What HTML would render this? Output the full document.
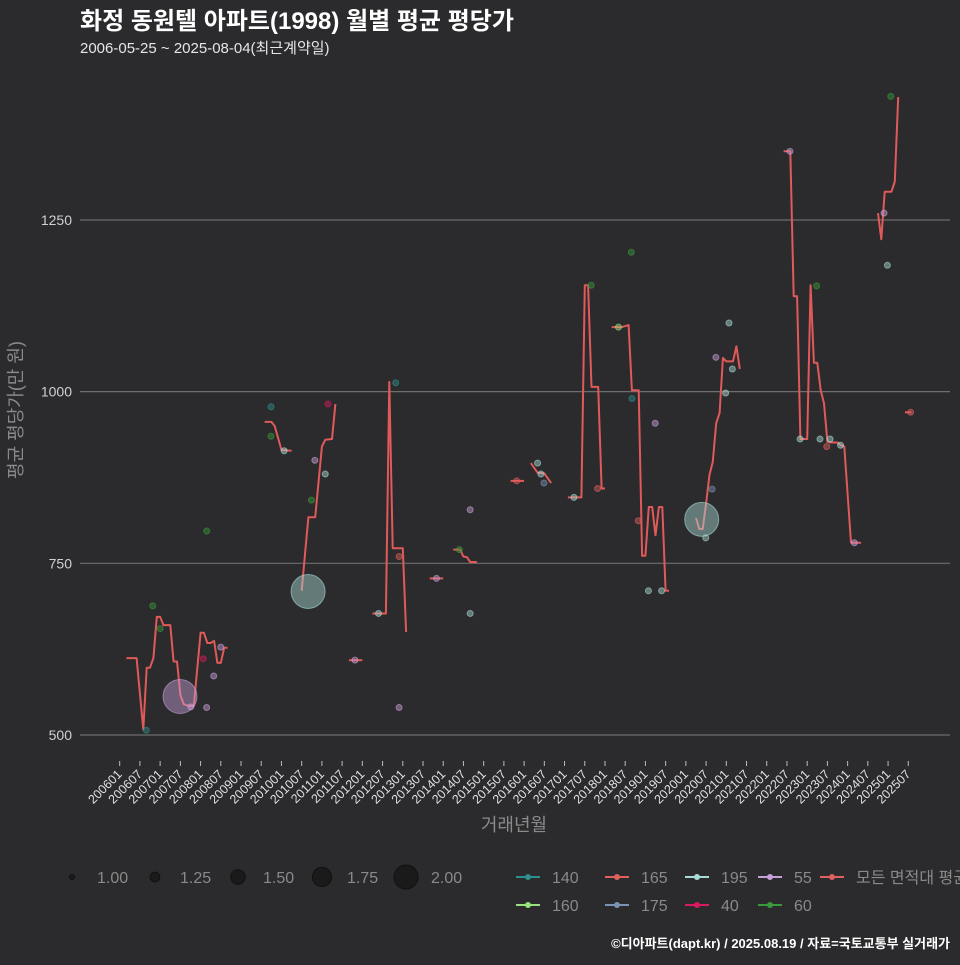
<!DOCTYPE html>
<html><head><meta charset="utf-8">
<style>
html,body{margin:0;padding:0;background:#2b2a2c;}
body{width:960px;height:960px;overflow:hidden;font-family:"Liberation Sans","Noto Sans CJK KR",sans-serif;}
</style></head>
<body>
<svg id="chart" width="960" height="960" xmlns="http://www.w3.org/2000/svg" style="font-family:'Liberation Sans','Noto Sans CJK KR',sans-serif">
<rect width="960" height="960" fill="#2b2a2c"/>
<text x="80" y="29" fill="#ffffff" font-size="24" font-weight="bold">화정 동원텔 아파트(1998) 월별 평균 평당가</text>
<text x="80" y="53" fill="#e6e6e6" font-size="15">2006-05-25 ~ 2025-08-04(최근계약일)</text>
<g id="grid"></g>
<g id="yaxis"></g>
<g id="xaxis"></g>
<g id="series"></g>
<text transform="translate(22,410) rotate(-90)" text-anchor="middle" fill="#8a8a8a" font-size="18">평균 평당가(만 원)</text>
<text x="514" y="831" text-anchor="middle" fill="#8a8a8a" font-size="18">거래년월</text>
<g id="legend"></g>
<text x="950" y="948" text-anchor="end" fill="#ffffff" font-size="13" font-weight="bold">©디아파트(dapt.kr) / 2025.08.19 / 자료=국토교통부 실거래가</text>
</svg>
<script>
// ---- data ----
const yTicks = [500, 750, 1000, 1250];
const xTickLabels = ["200601","200607","200701","200707","200801","200807","200901","200907","201001","201007","201101","201107","201201","201207","201301","201307","201401","201407","201501","201507","201601","201607","201701","201707","201801","201807","201901","201907","202001","202007","202101","202107","202201","202207","202301","202307","202401","202407","202501","202507"];
// line: month index since 2006-01, value, segment id
const lineMonths = [2,5,7,8,9,10,11,12,13,15,16,17,18,19,20,22,24,25,26,27,28,29,30,31,32,
 43,45,46,48,51,
 54,55,56,58,60,61,63,64,
 68,72,
 75,79,80,81,84,85,
 92,96,
 99,101,102,103,104,106,
 116,120,
 122,124,126,128,
 133,137,138,139,140,142,143,144,
 146,149,151,152,154,155,156,157,158,159,160,161,162,163,
 171,172,173,174,175,176,177,178,179,180,182,183,184,
 197,199,200,201,202,204,205,206,207,208,209,210,211,213,214,215,217,220,
 225,226,227,229,230,231,
 233,235];
const lineValues = [612,612,508,598,598,612,672,672,660,660,607,607,558,545,543,542,649,649,634,634,637,605,605,627,627,
 956,956,950,915,914,
 710,765,817,817,920,930,931,982,
 609,609,
 677,677,1014,772,772,650,
 728,728,
 770,770,760,759,752,752,
 870,870,
 896,882,881,867,
 846,846,1155,1155,1007,1007,859,859,
 1094,1094,1097,1002,1002,761,761,832,832,791,832,832,710,710,
 816,800,800,837,879,898,954,969,1049,1044,1044,1066,1033,
 1350,1350,1139,1139,931,931,1155,1042,1042,1002,983,927,926,926,922,920,780,780,
 1260,1222,1291,1291,1306,1429,
 970,970];
const lineSegments = [1,1,1,1,1,1,1,1,1,1,1,1,1,1,1,1,1,1,1,1,1,1,1,1,1,
 2,2,2,2,2,
 3,3,3,3,3,3,3,3,
 4,4,
 5,5,5,5,5,5,
 6,6,
 7,7,7,7,7,7,
 8,8,
 9,9,9,9,
 10,10,10,10,10,10,10,10,
 11,11,11,11,11,11,11,11,11,11,11,11,11,11,
 12,12,12,12,12,12,12,12,12,12,12,12,12,
 13,13,13,13,13,13,13,13,13,13,13,13,13,13,13,13,13,13,
 14,14,14,14,14,14,
 15,15];
// scatter points
const pointMonths = [7.9,9.8,12,17.9,21.1,24.8,27.9,25.8,30,25.8,44.9,44.9,48.8,57.9,61,56.9,61.8,55.9,76.8,69.8,81.9,82.9,82.9,94,100.8,104,104,117.8,124,125,125.9,134.8,139.9,141.8,148,151.8,152,153.9,158.9,156.9,160.8,172.7,173.9,175.8,176.9,180.8,181.8,179.8,198.9,201.9,206.8,207.8,210.8,209.8,213.9,218,228.8,226.8,227.8,234.7];
const pointValues = [507,688,655,556,541,611,586,540,628,797,978,935,914,900,880,842,982,709,677,609,1013,760,540,728,770,828,677,870,896,880,867,846,1155,859,1094,1203,990,812,954,710,710,814,787,858,1050,1100,1033,998,1350,931,1154,931,931,920,922,780,1430,1260,1184,970];
const pointAreas = ["140","60","60","55","55","40","55","55","55","60","140","60","195","55","195","60","40","195","195","55","140","165","55","55","60","55","195","165","195","195","175","195","60","165","160","60","140","165","55","195","195","195","195","175","55","195","195","195","55","195","60","195","195","165","195","55","60","55","195","165"];
const pointCounts = [1,1,1,2,1,1,1,1,1,1,1,1,1,1,1,1,1,2,1,1,1,1,1,1,1,1,1,1,1,1,1,1,1,1,1,1,1,1,1,1,1,2,1,1,1,1,1,1,1,1,1,1,1,1,1,1,1,1,1,1];
const areaNames = ["140","165","195","55","모든 면적대 평균","160","175","40","60"];
const sizeLabels = ["1.00","1.25","1.50","1.75","2.00"];
const sizeValues = [1,1.25,1.5,1.75,2];

const colors = {"140":"#2e8f8c","165":"#e0605e","195":"#a9dcd6","55":"#c8a0d8","160":"#9be07f","175":"#7b93b5","40":"#d81b60","60":"#3a9a3a","모든 면적대 평균":"#e0605e"};
const NS = "http://www.w3.org/2000/svg";
function X(m){ return 119.7 + m*3.37; }
function Y(v){ return 735 - (v-500)*171.67/250; }
function R(c){ return 3 + (c-1)*14; }
function mk(tag, attrs, parent){ const e=document.createElementNS(NS,tag); for(const k in attrs) e.setAttribute(k,attrs[k]); parent.appendChild(e); return e; }

const grid=document.getElementById('grid'), ya=document.getElementById('yaxis'), xa=document.getElementById('xaxis');
yTicks.forEach(t=>{
  const l=mk('line',{x1:80,x2:950,y1:Y(t),y2:Y(t),stroke:'#6e6e6e','stroke-width':1.2},grid);
  
  
  const tx=mk('text',{x:72,y:Y(t)+5,'text-anchor':'end',fill:'#d0d0d0','font-size':14},ya);
  tx.textContent=t;
  
  
});
xTickLabels.forEach((lab,i)=>{
  const x=X(i*6);
  const tk=mk('line',{x1:x,x2:x,y1:761,y2:766,stroke:'#bdbdbd','stroke-width':1},xa);
  
  
  const tx=mk('text',{x:x+3,y:775,'text-anchor':'end',fill:'#e0e0e0','font-size':12.5,transform:`rotate(-45 ${x+3} 775)`},xa);
  tx.textContent=lab;
  
  
});

const ser=document.getElementById('series');
const segs={};
lineMonths.forEach((m,i)=>{ const s=lineSegments[i]; (segs[s]=segs[s]||[]).push(X(m).toFixed(1)+','+Y(lineValues[i]).toFixed(1)); });
Object.keys(segs).forEach(s=>{
  const p=mk('polyline',{points:segs[s].join(' '),fill:'none',stroke:'#e05a5a','stroke-width':2,'stroke-linejoin':'round'},ser);
  
  
});
pointMonths.forEach((m,i)=>{
  const c=colors[pointAreas[i]];
  const ci=mk('circle',{cx:X(m),cy:Y(pointValues[i]),r:R(pointCounts[i]),fill:c,'fill-opacity':0.45,stroke:c,'stroke-opacity':0.6,'stroke-width':1},ser);
  
  
});

const lg=document.getElementById('legend');
const sizeX=[72,155,238,322,406];
sizeValues.forEach((v,i)=>{
  const c=mk('circle',{cx:sizeX[i],cy:877,r:2.5+(v-1)*38/4,fill:'#1a1a1a',stroke:'#111','stroke-width':1},lg);
  
  
  const t=mk('text',{x:sizeX[i]+25,y:883,fill:'#8a8a8a','font-size':16},lg);
  t.textContent=sizeLabels[i];
  
  
});
const legPos=[[528,877],[617,877],[697,877],[770,877],[832,877],[528,905],[617,905],[697,905],[770,905]];
areaNames.forEach((a,i)=>{
  const [x,y]=legPos[i];
  const g=mk('g',{},lg);
  
  
  mk('line',{x1:x-12,x2:x+12,y1:y,y2:y,stroke:colors[a],'stroke-width':2},g);
  mk('circle',{cx:x,cy:y,r:3,fill:colors[a],'fill-opacity':1},g);
  const t=mk('text',{x:x+24,y:y+6,fill:'#8a8a8a','font-size':16},g);
  t.textContent=a;
});
</script>
</body></html>
